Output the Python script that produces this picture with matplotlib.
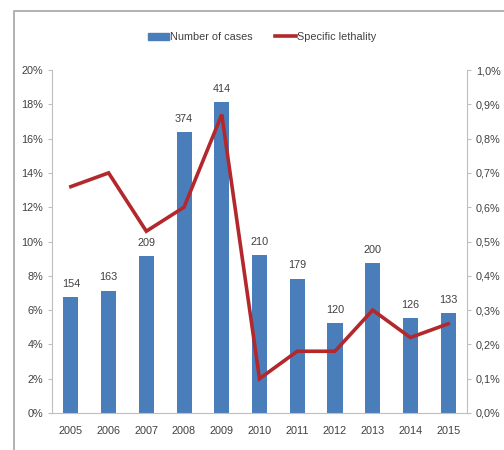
import matplotlib.pyplot as plt
from matplotlib.patches import Rectangle
from matplotlib.lines import Line2D
from matplotlib.patches import Patch
import numpy as np

plt.rcParams['font.family'] = ['Liberation Sans Narrow', 'Liberation Sans', 'DejaVu Sans']

years = ["2005", "2006", "2007", "2008", "2009", "2010", "2011", "2012", "2013", "2014", "2015"]
cases = [154, 163, 209, 374, 414, 210, 179, 120, 200, 126, 133]
lethality = [0.66, 0.70, 0.53, 0.60, 0.87, 0.10, 0.18, 0.18, 0.30, 0.22, 0.26]  # percent

# left axis shows cases as a share, 20% corresponds to this many cases
cases_at_20pct = 457

bar_color = "#4A7EBB"
line_color = "#B3282D"
axis_color = "#BFBFBF"
text_color = "#404040"
fs = 7.8

fig = plt.figure(figsize=(5.04, 4.5), dpi=100)
fig.patches.append(Rectangle((14 / 504, -0.1), 1.2, (450 - 11) / 450 + 0.1,
                             transform=fig.transFigure, fill=False,
                             edgecolor="#A6A6A6", linewidth=1.2))

ax = fig.add_axes([52 / 504, 37 / 450, (467 - 52) / 504, (413 - 70) / 450])
x = np.arange(len(years))
ax.bar(x, cases, width=0.4, color=bar_color, zorder=2)
for xi, c in zip(x, cases):
    ax.text(xi, c + 11, str(c), ha="center", va="bottom", fontsize=fs, color=text_color)

ax.set_xlim(-0.5, len(years) - 0.5)
ax.set_ylim(0, cases_at_20pct)
pct = np.arange(0, 21, 2)
ax.set_yticks(pct * cases_at_20pct / 20)
ax.set_yticklabels([f"{p}%" for p in pct])
ax.set_xticks(x)
ax.set_xticklabels(years)

ax2 = ax.twinx()
ax2.plot(x, lethality, color=line_color, linewidth=2.6, solid_joinstyle="miter", zorder=3)
ax2.set_ylim(0, 1.0)
rt = np.arange(0, 11) / 10
ax2.set_yticks(rt)
ax2.set_yticklabels([f"{v:.1f}%".replace(".", ",") for v in rt])

for a in (ax, ax2):
    for s in a.spines.values():
        s.set_visible(False)
    a.tick_params(colors=text_color, labelsize=fs, length=3, width=0.8)
    a.tick_params(axis="both", color=axis_color)
ax.spines["left"].set_visible(True)
ax.spines["left"].set_color(axis_color)
ax.spines["bottom"].set_visible(True)
ax.spines["bottom"].set_color(axis_color)
ax2.spines["right"].set_visible(True)
ax2.spines["right"].set_color(axis_color)
ax.tick_params(axis="x", length=0, pad=9)

handles = [Patch(color=bar_color, label="Number of cases"),
           Line2D([0], [0], color=line_color, linewidth=2.6, label="Specific lethality")]
fig.legend(handles=handles, loc="center", bbox_to_anchor=(0.52, 0.918), ncol=2,
           frameon=False, fontsize=fs, handlelength=2.0, handleheight=0.6,
           columnspacing=2.0, handletextpad=0.1, labelcolor=text_color)

fig.savefig("out.png", dpi=100)
